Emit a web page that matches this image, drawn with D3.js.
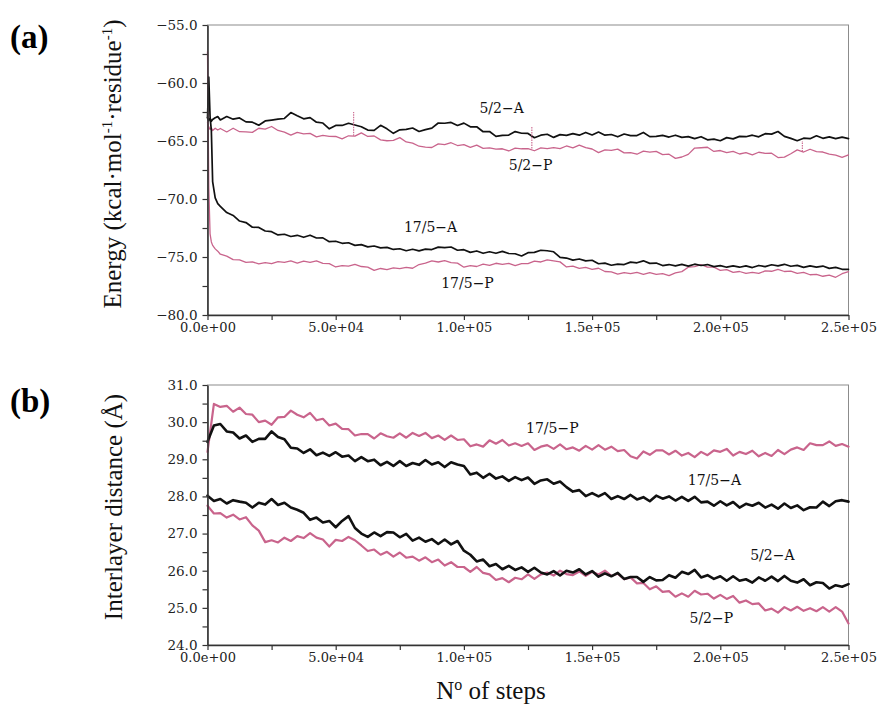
<!DOCTYPE html>
<html>
<head>
<meta charset="utf-8">
<script src="https://cdn.jsdelivr.net/npm/d3@7"></script>
<style>
  body { margin: 0; background: #fff; }
  svg { display: block; }
</style>
</head>
<body>
<svg id="chart" width="879" height="710"></svg>
<script>
// ---- x axis (simulation steps) ----
const xTicks = [0, 50000, 100000, 150000, 200000, 250000];
const xTickLabels = ["0.0e+00", "5.0e+04", "1.0e+05", "1.5e+05", "2.0e+05", "2.5e+05"];
const xMinorTicks = [25000, 75000, 125000, 175000, 225000];

// ---- panel (a): energy ----
const energyTicks = [-80, -75, -70, -65, -60, -55];
const energyMinorTicks = [-77.5, -72.5, -67.5, -62.5, -57.5];
// sampling: dense at the start, then every 2500 steps
const energySteps = [0, 500, 1000, 1500, 2000, 3000, 4000].concat(d3.range(5000, 250001, 2500));

const energy52A = [-63.0, -63.25, -63.05, -63.3, -63.15, -63.0, -62.9,
  -63.18, -62.89, -63.12, -63.01, -63.35, -63.38, -63.64, -63.27, -63.20, -63.12,
  -63.06, -62.55, -62.83, -63.09, -62.98, -63.38, -63.45, -63.95, -63.66, -63.66,
  -63.47, -63.62, -63.77, -64.06, -64.08, -63.65, -63.95, -64.34, -64.04, -64.00,
  -63.88, -64.18, -64.02, -63.89, -63.45, -63.47, -63.40, -63.66, -63.46, -63.78,
  -63.77, -64.20, -64.18, -64.60, -64.52, -64.49, -64.19, -64.33, -64.35, -64.72,
  -64.50, -64.42, -64.69, -64.45, -64.51, -64.37, -64.50, -64.26, -64.48, -64.23,
  -64.50, -64.44, -64.64, -64.40, -64.53, -64.53, -64.26, -64.62, -64.60, -64.52,
  -64.66, -64.50, -64.69, -64.62, -64.80, -64.63, -64.90, -64.84, -64.98, -64.71,
  -64.82, -64.60, -64.63, -64.50, -64.64, -64.37, -64.41, -64.18, -64.60, -64.77,
  -64.98, -64.76, -64.80, -64.55, -64.77, -64.64, -64.79, -64.67, -64.80];

const energy52P = [-63.4, -63.8, -64.0, -63.85, -64.1, -63.9, -64.05,
  -63.92, -64.22, -63.90, -64.20, -64.21, -64.26, -63.90, -63.98, -63.75, -64.09,
  -64.23, -64.50, -64.25, -64.38, -64.34, -64.65, -64.52, -64.60, -64.61, -64.82,
  -64.55, -64.58, -64.30, -64.61, -64.57, -64.90, -64.98, -64.95, -64.71, -65.08,
  -65.19, -65.45, -65.52, -65.56, -65.25, -65.32, -65.15, -65.39, -65.32, -65.55,
  -65.35, -65.63, -65.59, -65.70, -65.67, -65.86, -65.61, -65.67, -65.65, -65.84,
  -65.60, -65.66, -65.57, -65.65, -65.43, -65.60, -65.36, -65.58, -65.69, -66.00,
  -65.77, -65.80, -65.70, -66.02, -66.00, -66.14, -65.87, -65.96, -65.90, -66.18,
  -66.14, -66.50, -66.38, -66.15, -65.61, -65.58, -65.54, -65.90, -65.82, -66.00,
  -65.90, -66.12, -66.00, -66.19, -65.97, -66.06, -66.05, -66.43, -66.39, -66.10,
  -65.77, -65.95, -65.71, -65.92, -65.95, -66.14, -66.22, -66.41, -66.20];

// isolated single-frame excursions of 5/2-P: [step, from, to]
const energy52PSpikes = [[57000, -64.55, -62.5], [126500, -65.65, -63.8], [232000, -65.9, -65.0]];

const energy175A = [-63.0, -59.5, -62.9, -64.1, -68.5, -69.9, -70.4,
  -70.64, -71.17, -71.42, -71.90, -72.03, -72.43, -72.45, -72.76, -72.82, -73.10,
  -73.04, -73.23, -73.13, -73.30, -73.12, -73.36, -73.35, -73.68, -73.64, -73.82,
  -73.77, -74.00, -73.93, -74.13, -74.05, -74.21, -74.17, -74.35, -74.29, -74.46,
  -74.33, -74.47, -74.32, -74.36, -74.15, -74.20, -74.14, -74.42, -74.37, -74.60,
  -74.48, -74.68, -74.55, -74.68, -74.52, -74.70, -74.72, -74.91, -74.63, -74.60,
  -74.42, -74.46, -74.55, -75.03, -75.09, -75.27, -75.17, -75.33, -75.28, -75.58,
  -75.53, -75.71, -75.62, -75.65, -75.44, -75.50, -75.33, -75.55, -75.52, -75.74,
  -75.65, -75.76, -75.64, -75.79, -75.62, -75.73, -75.65, -75.83, -75.75, -75.88,
  -75.77, -75.88, -75.76, -75.91, -75.73, -75.83, -75.67, -75.76, -75.63, -75.80,
  -75.72, -75.89, -75.77, -75.88, -75.78, -75.98, -75.90, -76.06, -76.06];

const energy175P = [-57.3, -69.0, -73.0, -73.7, -74.0, -74.3, -74.5,
  -74.76, -74.93, -75.23, -75.25, -75.47, -75.42, -75.60, -75.49, -75.58, -75.40,
  -75.46, -75.34, -75.52, -75.35, -75.46, -75.34, -75.55, -75.57, -75.86, -75.75,
  -75.78, -75.63, -75.82, -75.87, -76.15, -75.99, -76.08, -75.93, -76.01, -75.90,
  -75.97, -75.65, -75.53, -75.34, -75.43, -75.32, -75.48, -75.53, -75.88, -75.75,
  -75.82, -75.62, -75.73, -75.54, -75.63, -75.55, -75.74, -75.57, -75.57, -75.35,
  -75.43, -75.24, -75.33, -75.42, -75.86, -75.78, -75.98, -75.90, -76.07, -75.97,
  -76.25, -76.29, -76.48, -76.35, -76.44, -76.32, -76.49, -76.35, -76.50, -76.44,
  -76.60, -76.37, -76.26, -75.88, -75.83, -75.65, -75.87, -75.87, -76.15, -76.09,
  -76.33, -76.25, -76.41, -76.32, -76.42, -76.20, -76.23, -76.06, -76.25, -76.22,
  -76.41, -76.33, -76.53, -76.50, -76.66, -76.57, -76.75, -76.44, -76.26];

// ---- panel (b): interlayer distance ----
const distTicks = [24, 25, 26, 27, 28, 29, 30, 31];
const distMinorTicks = [24.5, 25.5, 26.5, 27.5, 28.5, 29.5, 30.5];
const distSteps = d3.range(0, 250001, 2500);

const dist175P = [29.20, 30.49, 30.41, 30.44, 30.28, 30.39, 30.22, 30.20, 30.00, 30.04,
  29.93, 30.13, 30.14, 30.31, 30.20, 30.13, 30.25, 30.05, 30.09, 29.91,
  29.96, 29.82, 29.81, 29.64, 29.68, 29.68, 29.56, 29.70, 29.62, 29.58,
  29.70, 29.58, 29.71, 29.63, 29.71, 29.57, 29.64, 29.52, 29.64, 29.52,
  29.54, 29.35, 29.40, 29.34, 29.51, 29.42, 29.52, 29.37, 29.43, 29.36,
  29.43, 29.25, 29.34, 29.38, 29.28, 29.40, 29.27, 29.32, 29.23, 29.36,
  29.26, 29.38, 29.26, 29.34, 29.22, 29.25, 29.08, 29.02, 29.21, 29.12,
  29.24, 29.24, 29.13, 29.23, 29.10, 29.17, 29.06, 29.20, 29.11, 29.24,
  29.20, 29.28, 29.10, 29.20, 29.14, 29.23, 29.08, 29.17, 29.09, 29.25,
  29.14, 29.26, 29.32, 29.25, 29.43, 29.38, 29.38, 29.48, 29.36, 29.41,
  29.34];

const dist175A = [29.47, 29.91, 29.95, 29.75, 29.72, 29.56, 29.64, 29.47, 29.55, 29.55,
  29.75, 29.60, 29.54, 29.31, 29.29, 29.17, 29.27, 29.11, 29.18, 29.09,
  29.19, 29.07, 29.10, 28.95, 29.06, 28.95, 28.99, 28.84, 28.93, 28.82,
  28.95, 28.82, 28.90, 28.85, 28.98, 28.86, 28.92, 28.79, 28.92, 28.86,
  28.82, 28.59, 28.64, 28.50, 28.61, 28.48, 28.54, 28.42, 28.52, 28.44,
  28.51, 28.34, 28.43, 28.46, 28.34, 28.40, 28.25, 28.13, 28.17, 28.01,
  28.09, 28.00, 28.09, 27.93, 28.01, 27.93, 28.04, 27.92, 27.98, 27.87,
  28.02, 27.94, 28.00, 27.89, 27.99, 27.88, 27.99, 27.84, 27.86, 27.75,
  27.87, 27.76, 27.85, 27.70, 27.80, 27.75, 27.83, 27.70, 27.78, 27.67,
  27.81, 27.69, 27.76, 27.63, 27.71, 27.70, 27.86, 27.74, 27.87, 27.90,
  27.86];

const dist52A = [28.02, 27.88, 27.93, 27.81, 27.90, 27.86, 27.83, 27.70, 27.83, 27.78,
  27.93, 27.77, 27.83, 27.70, 27.64, 27.56, 27.37, 27.43, 27.30, 27.34,
  27.17, 27.34, 27.47, 27.15, 27.00, 26.91, 27.03, 26.93, 27.04, 27.03,
  26.90, 26.99, 26.81, 26.89, 26.78, 26.85, 26.72, 26.84, 26.71, 26.80,
  26.54, 26.43, 26.25, 26.30, 26.12, 26.18, 26.04, 26.13, 26.02, 26.09,
  25.97, 26.08, 25.95, 25.90, 25.99, 25.87, 26.00, 25.95, 26.04, 25.90,
  25.99, 25.84, 25.93, 25.85, 25.94, 25.78, 25.83, 25.83, 25.70, 25.83,
  25.74, 25.75, 25.88, 25.81, 25.97, 25.91, 26.02, 25.82, 25.88, 25.78,
  25.85, 25.73, 25.85, 25.73, 25.77, 25.68, 25.82, 25.73, 25.84, 25.72,
  25.86, 25.73, 25.68, 25.77, 25.61, 25.69, 25.67, 25.52, 25.61, 25.57,
  25.64];

const dist52P = [27.75, 27.54, 27.55, 27.43, 27.51, 27.38, 27.44, 27.22, 27.08, 26.77,
  26.82, 26.76, 26.89, 26.80, 26.93, 26.88, 27.01, 26.89, 26.84, 26.65,
  26.83, 26.80, 26.91, 26.82, 26.68, 26.53, 26.57, 26.43, 26.51, 26.38,
  26.49, 26.35, 26.38, 26.27, 26.36, 26.23, 26.30, 26.14, 26.23, 26.10,
  26.10, 25.97, 26.10, 25.94, 25.90, 25.75, 25.80, 25.69, 25.81, 25.77,
  25.90, 25.78, 25.90, 25.95, 25.87, 26.00, 25.91, 25.88, 25.98, 25.86,
  25.97, 25.90, 26.00, 25.86, 25.92, 25.77, 25.82, 25.66, 25.67, 25.50,
  25.58, 25.43, 25.45, 25.30, 25.39, 25.30, 25.46, 25.36, 25.38, 25.25,
  25.35, 25.24, 25.32, 25.14, 25.20, 25.10, 25.12, 24.93, 24.98, 24.87,
  25.02, 24.93, 25.03, 24.92, 24.99, 24.91, 25.02, 24.90, 25.02, 24.90,
  24.58];

// series label anchors: [text, step, value]
const energyLabels = [["5/2\u2212A", 114700, -62.6], ["5/2\u2212P", 126000, -67.5],
                      ["17/5\u2212A", 87000, -72.82], ["17/5\u2212P", 101400, -77.7]];
const distLabels = [["17/5\u2212P", 134500, 29.70], ["17/5\u2212A", 197700, 28.31],
                    ["5/2\u2212A", 220300, 26.29], ["5/2\u2212P", 196500, 24.58]];

// ---- drawing ----
const BLACK = "#111111";
const PINK = "#c9648c";
const TICK_FONT = "'DejaVu Serif', serif";
const TITLE_FONT = "'Liberation Serif', 'Times New Roman', serif";

const svg = d3.select("#chart");
svg.append("rect").attr("width", 879).attr("height", 710).attr("fill", "#fff");

const x = d3.scaleLinear().domain([0, 250000]).range([207.5, 848.5]);

function drawPanel(opts) {
  const y = d3.scaleLinear().domain(opts.domain).range(opts.range);
  const g = svg.append("g");
  const [top, bottom] = [opts.range[1], opts.range[0]];

  // thin grey frame (top and right edges)
  g.append("rect")
    .attr("x", x.range()[0]).attr("y", top)
    .attr("width", x.range()[1] - x.range()[0]).attr("height", bottom - top)
    .attr("fill", "none").attr("stroke", "#8c8c8c").attr("stroke-width", 1);

  // series
  const line = d3.line().x(d => x(d[0])).y(d => y(d[1]));
  opts.series.forEach(s => {
    const pts = opts.steps.map((st, i) => [st, s.values[i]]);
    g.append("path").datum(pts)
      .attr("d", line)
      .attr("fill", "none")
      .attr("stroke", s.color)
      .attr("stroke-width", s.width)
      .attr("stroke-linejoin", "round")
      .attr("stroke-linecap", "round");
  });
  (opts.spikes || []).forEach(sp => {
    g.append("line")
      .attr("x1", x(sp[0])).attr("x2", x(sp[0]))
      .attr("y1", y(sp[1])).attr("y2", y(sp[2]))
      .attr("stroke", PINK).attr("stroke-width", 1.1)
      .attr("stroke-dasharray", "1.5,1");
  });

  // axes
  const fmtY = d3.format(".1f");
  const yAxis = g.append("g").attr("transform", `translate(${x.range()[0]},0)`)
    .call(d3.axisLeft(y).tickValues(opts.ticks).tickFormat(fmtY)
      .tickSize(5).tickSizeOuter(0).tickPadding(5));
  g.append("g").attr("transform", `translate(${x.range()[0]},0)`)
    .call(d3.axisLeft(y).tickValues(opts.minor).tickFormat("")
      .tickSize(5).tickSizeOuter(0))
    .select(".domain").remove();
  const xAxis = g.append("g").attr("transform", `translate(0,${bottom})`)
    .call(d3.axisBottom(x).tickValues(xTicks)
      .tickFormat((d, i) => xTickLabels[i])
      .tickSize(5).tickSizeOuter(0).tickPadding(3));
  g.append("g").attr("transform", `translate(0,${bottom})`)
    .call(d3.axisBottom(x).tickValues(xMinorTicks).tickFormat("")
      .tickSize(5).tickSizeOuter(0))
    .select(".domain").remove();

  g.selectAll(".domain").attr("stroke", "#333").attr("stroke-width", 1.6);
  g.selectAll(".tick line").attr("stroke", "#333").attr("stroke-width", 1.2);
  yAxis.selectAll("text").attr("font-family", TICK_FONT).attr("font-size", 13.5).attr("fill", "#222");
  xAxis.selectAll("text").attr("font-family", TICK_FONT).attr("font-size", 13).attr("fill", "#222");

  // series labels
  opts.labels.forEach(l => {
    g.append("text")
      .attr("x", x(l[1])).attr("y", y(l[2]))
      .attr("text-anchor", "middle")
      .attr("font-family", TICK_FONT).attr("font-size", 14)
      .attr("fill", "#111")
      .text(l[0]);
  });
  return y;
}

drawPanel({
  domain: [-80, -55], range: [315, 25],
  ticks: energyTicks, minor: energyMinorTicks,
  steps: energySteps,
  series: [
    { values: energy52P, color: PINK, width: 1.3 },
    { values: energy175P, color: PINK, width: 1.3 },
    { values: energy52A, color: BLACK, width: 1.7 },
    { values: energy175A, color: BLACK, width: 1.7 }
  ],
  spikes: energy52PSpikes,
  labels: energyLabels
});

drawPanel({
  domain: [24, 31], range: [645, 385],
  ticks: distTicks, minor: distMinorTicks,
  steps: distSteps,
  series: [
    { values: dist175P, color: PINK, width: 2.2 },
    { values: dist52P, color: PINK, width: 2.2 },
    { values: dist175A, color: BLACK, width: 2.6 },
    { values: dist52A, color: BLACK, width: 2.6 }
  ],
  labels: distLabels
});

// panel letters
svg.append("text").attr("x", 10).attr("y", 48)
  .attr("font-family", TITLE_FONT).attr("font-weight", "bold").attr("font-size", 33)
  .text("(a)");
svg.append("text").attr("x", 10).attr("y", 412)
  .attr("font-family", TITLE_FONT).attr("font-weight", "bold").attr("font-size", 33)
  .text("(b)");

// axis titles
const eTitle = svg.append("text")
  .attr("transform", "translate(120.5,164) rotate(-90)")
  .attr("text-anchor", "middle")
  .attr("font-family", TITLE_FONT).attr("font-size", 25).attr("fill", "#111");
eTitle.append("tspan").text("Energy (kcal\u00b7mol");
eTitle.append("tspan").attr("font-size", 15).attr("dy", -9).text("-1");
eTitle.append("tspan").attr("dy", 9).text("\u00b7residue");
eTitle.append("tspan").attr("font-size", 15).attr("dy", -9).text("-1");
eTitle.append("tspan").attr("dy", 9).text(")");

svg.append("text")
  .attr("transform", "translate(121.5,507) rotate(-90)")
  .attr("text-anchor", "middle")
  .attr("font-family", TITLE_FONT).attr("font-size", 25).attr("fill", "#111")
  .text("Interlayer distance (\u00c5)");

const xTitle = svg.append("text")
  .attr("x", 491).attr("y", 699)
  .attr("text-anchor", "middle")
  .attr("font-family", TITLE_FONT).attr("font-size", 25).attr("fill", "#111");
xTitle.append("tspan").text("N");
xTitle.append("tspan").attr("font-size", 16).attr("dy", -9).text("o");
xTitle.append("tspan").attr("dy", 9).text(" of steps");
</script>
</body>
</html>
